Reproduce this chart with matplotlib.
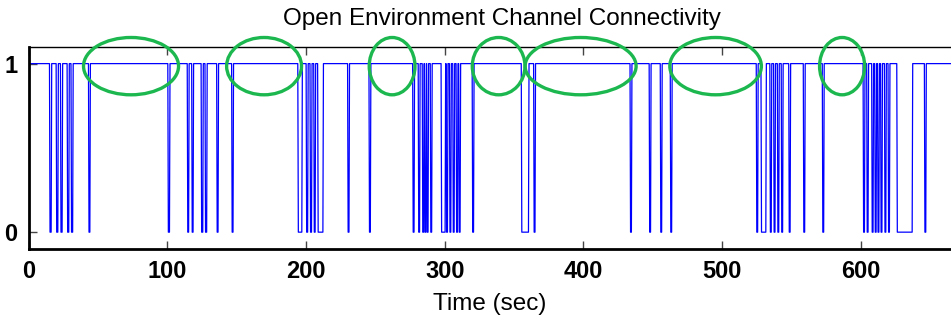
import matplotlib
matplotlib.use('Agg')
import matplotlib.pyplot as plt
from matplotlib.patches import Ellipse
import numpy as np

plt.rcParams['font.family'] = ['Liberation Sans Narrow', 'Liberation Sans', 'DejaVu Sans']

# periods with no connectivity (start, end) in seconds
down_start = [15.5, 20.3, 23.4, 28.2, 31.0, 43.6, 100.8, 114.8, 118.0, 124.8, 127.6,
              136.0, 146.8, 194.5, 200.5, 203.3, 206.0, 208.8, 230.4, 245.8,
              277.3, 281.3, 284.2, 285.8, 287.4, 290.0, 297.8, 301.4, 303.8, 306.2,
              308.6, 310.5, 320.2, 355.6, 364.5, 434.0, 447.8, 455.8, 463.0, 525.0,
              528.4, 534.8, 537.5, 540.2, 543.0, 548.4, 558.9, 572.6, 602.0, 604.6,
              608.2, 610.4, 612.4, 614.6, 617.4, 620.0, 626.3, 646.2]
down_end = [16.3, 21.1, 24.2, 29.0, 31.8, 44.2, 101.6, 115.4, 118.6, 125.6, 128.4,
            136.6, 147.4, 197.0, 201.2, 204.0, 206.6, 212.2, 231.0, 246.4,
            277.9, 281.9, 284.8, 286.4, 288.0, 290.6, 300.3, 302.0, 304.4, 306.8,
            309.2, 311.1, 320.8, 360.4, 365.1, 434.6, 448.4, 456.4, 463.6, 525.6,
            531.5, 535.4, 538.1, 540.8, 543.6, 549.0, 559.5, 573.2, 602.6, 605.2,
            608.8, 611.0, 613.0, 615.2, 618.0, 620.6, 637.0, 646.8]
t_end = 665

# highlighted stable periods (center, width) in seconds
circle_center = [73.9, 169.8, 262.1, 338.9, 398.0, 495.3, 586.5]
circle_width = [68.5, 54.0, 33.0, 38.0, 80.0, 66.0, 32.5]

# build the connectivity trace
t = [0.0]
y = [1]
for s, e in zip(down_start, down_end):
    t += [s - 0.4, s, e, e + 0.4]
    y += [1, 0, 0, 1]
t.append(t_end)
y.append(1)

fig = plt.figure(figsize=(9.51, 3.27), dpi=100)
ax = fig.add_axes([0.030, 0.2385, 0.970, 0.6185])

ax.plot(t, y, color='#0000ff', linewidth=0.9)

for c, w in zip(circle_center, circle_width):
    ax.add_patch(Ellipse((c, 0.985), w, 0.34, fill=False, edgecolor='#1cb84f',
                         linewidth=2.4, clip_on=False, zorder=5))

ax.set_xlim(0, t_end)
ax.set_ylim(-0.1, 1.1)
ax.set_xticks([0, 100, 200, 300, 400, 500, 600])
ax.set_yticks([0, 1])
ax.tick_params(direction='in', length=6, width=1, color='#444444', top=True,
               labelsize=17, pad=8)
for lab in ax.get_xticklabels() + ax.get_yticklabels():
    lab.set_fontweight('bold')
ax.spines['left'].set_linewidth(2)
ax.spines['bottom'].set_linewidth(2)
ax.spines['top'].set_linewidth(1)
ax.spines['right'].set_visible(False)

ax.set_xlabel('Time (sec)', fontsize=17.5, labelpad=7)
ax.set_title('Open Environment Channel Connectivity', fontsize=17.5, pad=16, x=0.513)

plt.savefig('out.png', dpi=100)
